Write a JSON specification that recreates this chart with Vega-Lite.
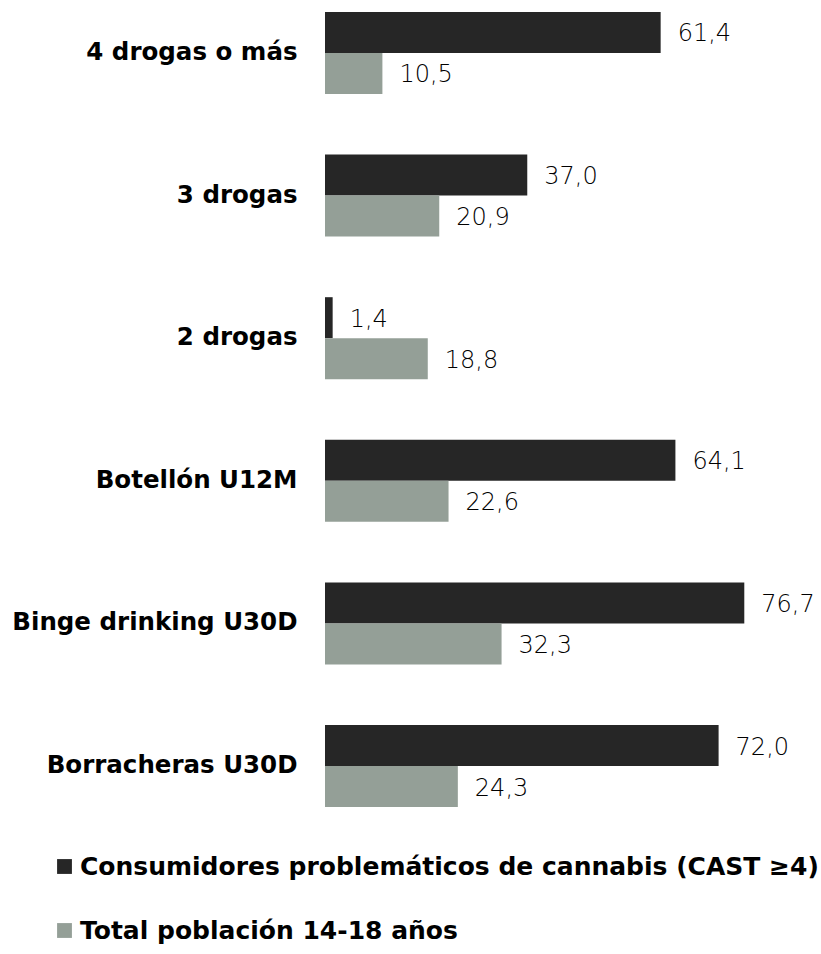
{
  "$schema": "https://vega.github.io/schema/vega-lite/v6.json",
  "width": 492,
  "height": 819,
  "autosize": {"type": "none"},
  "padding": {"left": 325, "top": 0, "right": 4, "bottom": 135},
  "background": "white",
  "config": {
    "view": {"stroke": null},
    "locale": {"number": {"decimal": ",", "thousands": ".", "grouping": [3], "currency": ["", " €"]}}
  },
  "data": {
    "values": [
      {"grupo": "4 drogas o más", "serie": "Consumidores problemáticos de cannabis (CAST ≥4)", "valor": 61.4},
      {"grupo": "4 drogas o más", "serie": "Total población 14-18 años", "valor": 10.5},
      {"grupo": "3 drogas", "serie": "Consumidores problemáticos de cannabis (CAST ≥4)", "valor": 37.0},
      {"grupo": "3 drogas", "serie": "Total población 14-18 años", "valor": 20.9},
      {"grupo": "2 drogas", "serie": "Consumidores problemáticos de cannabis (CAST ≥4)", "valor": 1.4},
      {"grupo": "2 drogas", "serie": "Total población 14-18 años", "valor": 18.8},
      {"grupo": "Botellón U12M", "serie": "Consumidores problemáticos de cannabis (CAST ≥4)", "valor": 64.1},
      {"grupo": "Botellón U12M", "serie": "Total población 14-18 años", "valor": 22.6},
      {"grupo": "Binge drinking U30D", "serie": "Consumidores problemáticos de cannabis (CAST ≥4)", "valor": 76.7},
      {"grupo": "Binge drinking U30D", "serie": "Total población 14-18 años", "valor": 32.3},
      {"grupo": "Borracheras U30D", "serie": "Consumidores problemáticos de cannabis (CAST ≥4)", "valor": 72.0},
      {"grupo": "Borracheras U30D", "serie": "Total población 14-18 años", "valor": 24.3}
    ]
  },
  "encoding": {
    "y": {
      "field": "grupo",
      "type": "nominal",
      "sort": ["4 drogas o más", "3 drogas", "2 drogas", "Botellón U12M", "Binge drinking U30D", "Borracheras U30D"],
      "scale": {"paddingInner": 0.425, "paddingOuter": 0.084},
      "axis": {
        "title": null,
        "domain": false,
        "ticks": false,
        "labelPadding": 28,
        "labelFont": "DejaVu Sans",
        "labelFontWeight": "bold",
        "labelFontSize": 24.5,
        "labelColor": "#000000",
        "labelLimit": 400
      }
    },
    "yOffset": {
      "field": "serie",
      "type": "nominal",
      "scale": {"domain": ["Consumidores problemáticos de cannabis (CAST ≥4)", "Total población 14-18 años"], "paddingInner": 0, "paddingOuter": 0}
    },
    "x": {
      "field": "valor",
      "type": "quantitative",
      "scale": {"domain": [0, 90], "nice": false},
      "axis": null
    }
  },
  "layer": [
    {
      "mark": {"type": "bar"},
      "encoding": {
        "color": {
          "field": "serie",
          "type": "nominal",
          "scale": {"domain": ["Consumidores problemáticos de cannabis (CAST ≥4)", "Total población 14-18 años"], "range": ["#262626", "#949F97"]},
          "legend": {
            "title": null,
            "orient": "none",
            "legendX": -273,
            "legendY": 854,
            "direction": "vertical",
            "symbolType": "square",
            "symbolSize": 220,
            "symbolStrokeWidth": 0,
            "labelFont": "DejaVu Sans",
            "labelFontWeight": "bold",
            "labelFontSize": 25,
            "labelColor": "#000000",
            "labelOffset": 3,
            "labelLimit": 900,
            "rowPadding": 38
          }
        }
      }
    },
    {
      "mark": {"type": "text", "align": "left", "baseline": "middle", "dx": 17, "dy": 2, "font": "DejaVu Sans", "fontSize": 24, "fontWeight": 300, "color": "#000000"},
      "encoding": {
        "text": {"field": "valor", "type": "quantitative", "format": ".1f"}
      }
    }
  ]
}
